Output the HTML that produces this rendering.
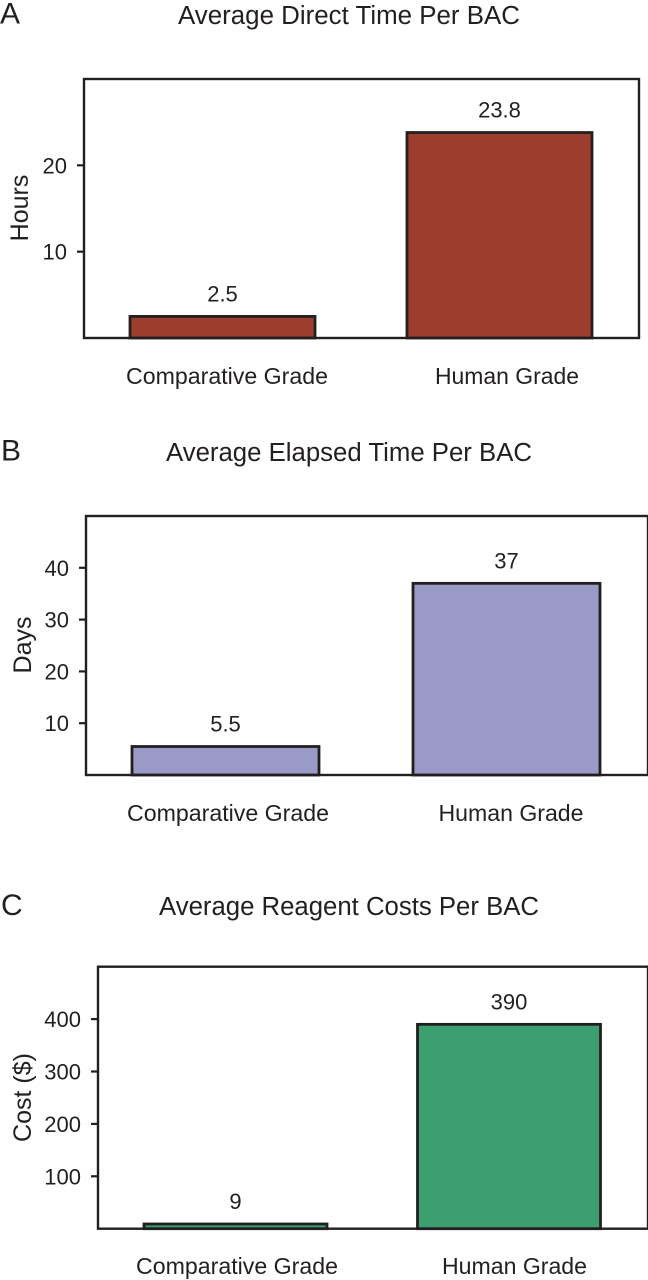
<!DOCTYPE html>
<html lang="en">
<head>
<meta charset="utf-8">
<title>Average Time and Cost Per BAC</title>
<style>
  html, body { margin: 0; padding: 0; background: #fff; }
  svg { display: block; }
  text { font-family: "Liberation Sans", sans-serif; fill: #231f20; }
</style>
</head>
<body>
<svg id="figure" xmlns="http://www.w3.org/2000/svg" width="648" height="1280" viewBox="0 0 648 1280"></svg>
<script>
const categories = ["Comparative Grade", "Human Grade"];

const hoursValues = [2.5, 23.8];
const hoursTicks = [10, 20];
const hoursDomainMax = 30;

const daysValues = [5.5, 37];
const daysTicks = [10, 20, 30, 40];
const daysDomainMax = 50;

const costValues = [9, 390];
const costTicks = [100, 200, 300, 400];
const costDomainMax = 500;

const NS = "http://www.w3.org/2000/svg";
const svg = document.getElementById("figure");

function add(parent, tag, attrs, content) {
  const el = document.createElementNS(NS, tag);
  Object.keys(attrs).forEach(function (k) { el.setAttribute(k, attrs[k]); });
  if (content !== undefined) el.textContent = content;
  parent.appendChild(el);
  return el;
}

function drawPanel(p, values, ticks, domainMax) {
  const g = add(svg, "g", {});
  
  

  const yScale = function (v) { return p.bottom - (v / domainMax) * (p.bottom - p.top); };
  const xScale = function (i) { return p.barCenters[i]; };

  const letter = add(g, "text", { x: p.letterX, y: p.letterY, "font-size": 30 }, p.letter);
  
  

  const title = add(g, "text", { x: p.titleX, y: p.titleY, "font-size": 25.5, "text-anchor": "middle", textLength: p.titleWidth, lengthAdjust: "spacingAndGlyphs" }, p.title);
  
  

  const frame = add(g, "rect", { x: p.left, y: p.top, width: p.right - p.left, height: p.bottom - p.top, fill: "#fff", stroke: "#231f20", "stroke-width": 2.4 });
  
  

  ticks.forEach(function (t) {
    const y = yScale(t);
    const tick = add(g, "line", { x1: p.left - 7, x2: p.left, y1: y, y2: y, stroke: "#231f20", "stroke-width": 2.2 });
    
    
    const label = add(g, "text", { x: p.left - 17, y: y + 8, "font-size": 22, "text-anchor": "end" }, String(t));
    
    
  });

  const yTitle = add(g, "text", { transform: "translate(" + p.yTitleX + "," + p.yTitleY + ") rotate(-90)", "font-size": 25, "text-anchor": "middle" }, p.yTitle);
  
  

  values.forEach(function (v, i) {
    const cx = xScale(i);
    const y = yScale(v);
    const bar = add(g, "rect", { x: cx - p.barWidth / 2, y: y, width: p.barWidth, height: p.bottom - y, fill: p.color, stroke: "#231f20", "stroke-width": 2.8 });
    
    

    const valueLabel = add(g, "text", { x: cx, y: y - 15, "font-size": 22, "text-anchor": "middle" }, String(v));
    
    

    const catLabel = add(g, "text", { x: cx + p.catOffsets[i], y: p.catY, "font-size": 23.5, "text-anchor": "middle", textLength: p.catWidths[i], lengthAdjust: "spacingAndGlyphs" }, categories[i]);
    
    
  });
}

drawPanel({
  key: "direct-time", letter: "A", letterX: 0, letterY: 23.5,
  title: "Average Direct Time Per BAC", titleX: 349, titleY: 24, titleWidth: 342,
  yTitle: "Hours", yTitleX: 28, yTitleY: 208,
  left: 84, right: 639, top: 79, bottom: 338,
  barCenters: [222.5, 499.5], barWidth: 185, catOffsets: [4.5, 7.5], catWidths: [202, 144], catY: 384,
  color: "#9c3d2e"
}, hoursValues, hoursTicks, hoursDomainMax);

drawPanel({
  key: "elapsed-time", letter: "B", letterX: 1, letterY: 460.5,
  title: "Average Elapsed Time Per BAC", titleX: 349, titleY: 461, titleWidth: 366,
  yTitle: "Days", yTitleX: 31, yTitleY: 645,
  left: 86, right: 648, top: 516, bottom: 775,
  barCenters: [225.5, 506.5], barWidth: 187, catOffsets: [2.5, 4.5], catWidths: [202, 145], catY: 821,
  color: "#9a9ac6"
}, daysValues, daysTicks, daysDomainMax);

drawPanel({
  key: "reagent-costs", letter: "C", letterX: 1, letterY: 915,
  title: "Average Reagent Costs Per BAC", titleX: 349, titleY: 915, titleWidth: 380,
  yTitle: "Cost ($)", yTitleX: 31, yTitleY: 1097.5,
  left: 98, right: 648, top: 966.7, bottom: 1228.7,
  barCenters: [235.5, 509], barWidth: 183, catOffsets: [1.5, 5.5], catWidths: [202, 145], catY: 1274,
  color: "#3c9f6f"
}, costValues, costTicks, costDomainMax);
</script>
</body>
</html>
